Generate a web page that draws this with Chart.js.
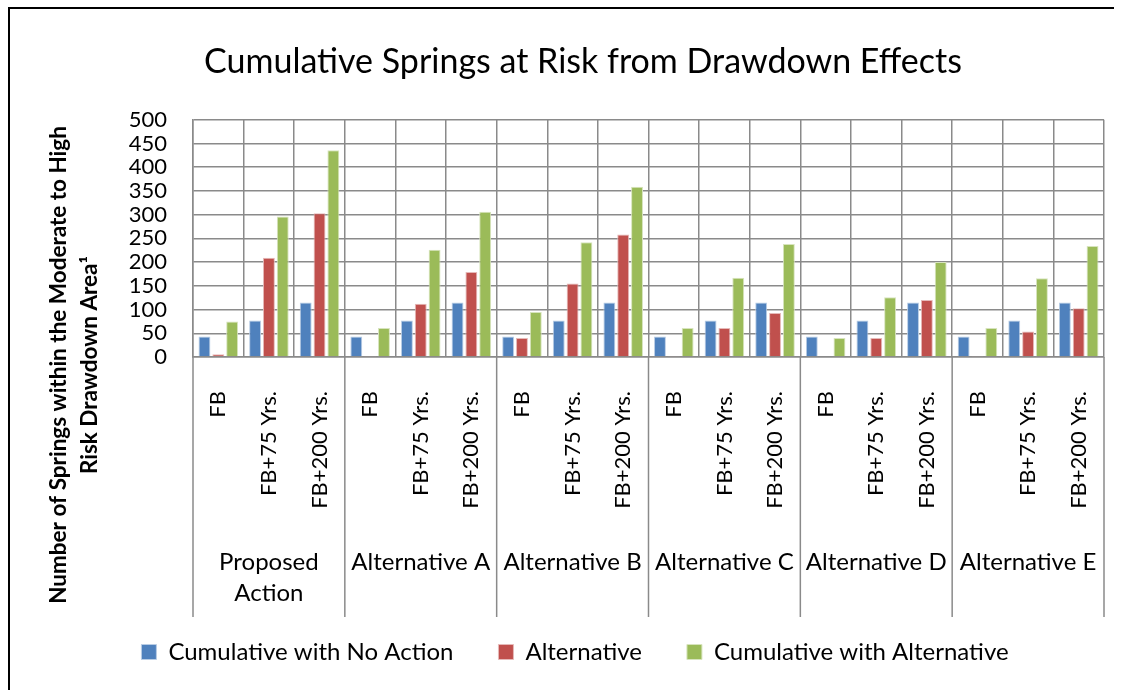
<!DOCTYPE html>
<html>
<head>
<meta charset="utf-8">
<script src="https://cdn.jsdelivr.net/npm/chart.js@4/dist/chart.umd.min.js"></script>
<style>
  html, body { margin: 0; padding: 0; background: #fff; overflow: hidden; }
  #wrap { position: absolute; left: 0; top: 0; width: 1166px; height: 685px; }
  #frame { position: absolute; left: 8px; top: 7px; width: 1104px; height: 900px; border-left: 2px solid #000; border-top: 2px solid #000; pointer-events: none; }
</style>
</head>
<body>
<div id="wrap"><canvas id="c" width="1166" height="685"></canvas></div>
<div id="frame"></div>
<script>
// ---- data ----
const titleText = 'Cumulative Springs at Risk from Drawdown Effects';
const yTitleLines = ['Number of Springs within the Moderate to High', 'Risk Drawdown Area\u00B9'];
const periods = ['FB', 'FB+75 Yrs.', 'FB+200 Yrs.'];
const groups = [['Proposed', 'Action'], ['Alternative A'], ['Alternative B'], ['Alternative C'], ['Alternative D'], ['Alternative E']];
const seriesNames = ['Cumulative with No Action', 'Alternative', 'Cumulative with Alternative'];
const noAction = [43, 77, 115, 43, 77, 115, 43, 77, 115, 43, 77, 115, 43, 77, 115, 43, 77, 115];
const alternative = [6, 209, 303, 2, 112, 179, 40, 155, 258, 2, 61, 93, 0, 40, 120, 2, 54, 103];
const cumAlternative = [75, 296, 436, 61, 226, 306, 95, 242, 359, 61, 167, 238, 40, 126, 200, 61, 166, 234];
const yTicks = [0, 50, 100, 150, 200, 250, 300, 350, 400, 450, 500];

// ---- build ----
const labels = [];
groups.forEach(() => periods.forEach(p => labels.push(p)));
const colors = ['#4F81BD', '#C0504D', '#9BBB59'];
const borders = ['#B9CDE5', '#E6B9B8', '#D7E4BD'];
const FONT = 'Lato';
const GRID = '#8A8A8A';

const groupPlugin = {
  id: 'groupAxis',
  afterLayout(chart) {
    if (chart.legend) { chart.legend.left -= 8; chart.legend.right -= 8; }
  },
  afterDraw(chart) {
    const ctx = chart.ctx;
    const xs = chart.scales.x;
    const area = chart.chartArea;
    ctx.save();
    ctx.strokeStyle = GRID;
    ctx.lineWidth = 1.5;
    for (let g = 0; g <= groups.length; g++) {
      let x;
      if (g === 0) x = area.left;
      else if (g === groups.length) x = area.right;
      else x = (xs.getPixelForValue(g * 3 - 1) + xs.getPixelForValue(g * 3)) / 2;
      ctx.beginPath();
      ctx.moveTo(x, area.bottom);
      ctx.lineTo(x, 617);
      ctx.stroke();
    }
    ctx.fillStyle = '#000';
    ctx.font = '24px ' + FONT;
    ctx.textAlign = 'center';
    ctx.textBaseline = 'middle';
    groups.forEach((lines, g) => {
      const cx = xs.getPixelForValue(g * 3 + 1);
      lines.forEach((t, i) => ctx.fillText(t, cx, 562 + i * 31));
    });
    // y axis title
    ctx.font = 'bold 22.5px ' + FONT;
    yTitleLines.forEach((t, i) => {
      ctx.save();
      ctx.translate(59 + i * 31, 365);
      ctx.rotate(-Math.PI / 2);
      ctx.fillText(t, 0, 0);
      ctx.restore();
    });
    ctx.restore();
  }
};

new Chart(document.getElementById('c'), {
  type: 'bar',
  data: {
    labels: labels,
    datasets: seriesNames.map((n, i) => ({
      label: n,
      data: [noAction, alternative, cumAlternative][i],
      backgroundColor: colors[i],
      borderColor: borders[i],
      borderWidth: 1,
      barPercentage: 0.86,
      categoryPercentage: 0.82
    }))
  },
  options: {
    responsive: false,
    animation: false,
    devicePixelRatio: 1,
    layout: { padding: { left: 62, right: 62, top: 0, bottom: 11 } },
    plugins: {
      title: {
        display: true,
        text: titleText,
        color: '#000',
        font: { family: FONT, size: 34, weight: 'normal' },
        padding: { top: 42, bottom: 37 }
      },
      legend: {
        position: 'bottom',
        labels: {
          color: '#000',
          font: { family: FONT, size: 24 },
          boxWidth: 15,
          boxHeight: 15,
          padding: 45
        }
      },
      tooltip: { enabled: false }
    },
    scales: {
      x: {
        grid: { color: GRID, lineWidth: 1.5, drawTicks: false, offset: true },
        border: { color: GRID, width: 1.5 },
        ticks: {
          color: '#000',
          font: { family: FONT, size: 22 },
          minRotation: 90,
          maxRotation: 90,
          padding: 34,
          autoSkip: false
        },
        afterFit(scale) { scale.height = 238; }
      },
      y: {
        min: 0,
        max: 500,
        afterBuildTicks(scale) { scale.ticks = yTicks.map(v => ({ value: v })); },
        grid: { color: GRID, lineWidth: 1.5, drawTicks: false },
        border: { color: GRID, width: 1.5 },
        ticks: {
          color: '#000',
          font: { family: FONT, size: 22 },
          padding: 26,
          autoSkip: false
        },
        afterFit(scale) { scale.width = 131; }
      }
    }
  },
  plugins: [groupPlugin]
});
</script>
</body>
</html>
